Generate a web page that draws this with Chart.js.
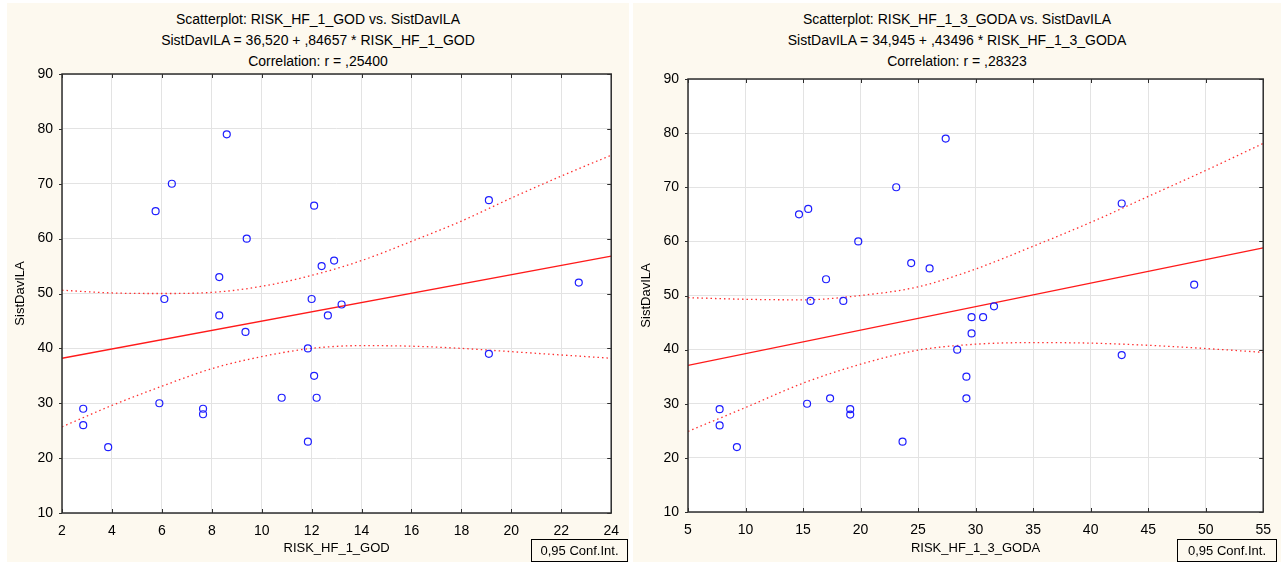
<!DOCTYPE html>
<html>
<head>
<meta charset="utf-8">
<script src="https://cdn.jsdelivr.net/npm/chart.js@4.4.1/dist/chart.umd.min.js"></script>
<style>
body{margin:0;background:#fff;font-family:"Liberation Sans",Arial,sans-serif;width:1288px;height:564px;overflow:hidden;position:relative;}
.panel{position:absolute;top:3px;height:559px;background:#fdf9ef;}
.head{position:absolute;left:0;right:0;top:6px;text-align:center;font-size:14px;line-height:21px;color:#000;}
.panel canvas{position:absolute;left:0;top:0;}
.conf{position:absolute;top:536px;height:21px;border:1px solid #000;font-size:13px;line-height:21px;text-align:center;color:#000;}
</style>
</head>
<body>
<div class="panel" style="left:7px;width:622px">
  <div class="head">Scatterplot: RISK_HF_1_GOD vs. SistDavILA<br>SistDavILA = 36,520 + ,84657 * RISK_HF_1_GOD<br>Correlation: r = ,25400</div>
  <canvas id="chartGod" width="622" height="559"></canvas>
  <div class="conf" style="left:524px;width:95px">0,95 Conf.Int.</div>
</div>
<div class="panel" style="left:633px;width:648px">
  <div class="head">Scatterplot: RISK_HF_1_3_GODA vs. SistDavILA<br>SistDavILA = 34,945 + ,43496 * RISK_HF_1_3_GODA<br>Correlation: r = ,28323</div>
  <canvas id="chartGoda" width="648" height="559"></canvas>
  <div class="conf" style="left:544px;width:98px">0,95 Conf.Int.</div>
</div>
<script>
// SistDavILA (same subjects in both plots)
var sistDavILA   = [79, 70, 65, 66, 60, 56, 55, 53, 49, 49, 48, 46, 46, 43, 40, 35, 31, 31, 30, 29, 29, 28, 26, 22, 23, 67, 52, 39];
var riskHf1God   = [8.6, 6.4, 5.75, 12.1, 9.4, 12.9, 12.4, 8.3, 6.1, 12.0, 13.2, 8.3, 12.65, 9.35, 11.85, 12.1, 10.8, 12.2, 5.9, 2.85, 7.65, 7.65, 2.85, 3.85, 11.85, 19.1, 22.7, 19.1];
var riskHf13Goda = [27.4, 23.1, 14.65, 15.45, 19.8, 24.4, 26.0, 17.0, 15.65, 18.5, 31.6, 29.65, 30.65, 29.65, 28.4, 29.2, 29.2, 17.35, 15.35, 7.75, 19.1, 19.1, 7.75, 9.25, 23.65, 42.7, 49, 42.7];

// regression lines (end points)
var fitGodX  = [2, 24];
var fitGodY  = [38.2, 56.8];
var fitGodaX = [5, 55];
var fitGodaY = [37.1, 58.8];

// 0,95 confidence bands
var bandGodX     = [2, 4, 6, 8, 10, 12, 14, 16, 18, 20, 22, 24];
var bandGodUpper = [50.6, 50.1, 50.0, 50.2, 51.3, 53.3, 56.0, 59.5, 63.2, 67.4, 71.4, 75.2];
var bandGodLower = [25.7, 29.6, 33.1, 36.3, 38.5, 40.0, 40.5, 40.4, 40.0, 39.4, 38.8, 38.2];
var bandGodaX     = [5, 10, 15, 20, 25, 30, 35, 40, 45, 50, 55];
var bandGodaUpper = [49.6, 49.3, 49.2, 50.0, 51.6, 54.9, 59.1, 63.5, 68.3, 73.1, 78.1];
var bandGodaLower = [24.9, 29.3, 33.8, 37.3, 39.9, 41.0, 41.3, 41.2, 40.8, 40.2, 39.5];

var yTicks = {min: 10, max: 90, step: 10};
var godTicks = {min: 2, max: 24, step: 2};
var godaTicks = {min: 5, max: 55, step: 5};

var fontFam = '"Liberation Sans", Arial, sans-serif';

function pts(xs, ys) {
    return xs.map(function (x, i) { return {x: x, y: ys[i]}; });
}

// white plot area + frame with small tick marks
var framePlugin = {
    id: 'frame',
    beforeDraw: function (chart) {
        var a = chart.chartArea, ctx = chart.ctx;
        ctx.save();
        ctx.fillStyle = '#ffffff';
        ctx.fillRect(a.left, a.top, a.right - a.left, a.bottom - a.top);
        ctx.restore();
    },
    afterDraw: function (chart) {
        var a = chart.chartArea, ctx = chart.ctx;
        var xs = chart.scales.x, ys = chart.scales.y;
        ctx.save();
        ctx.strokeStyle = '#2e2e2e';
        ctx.lineWidth = 1.5;
        ctx.strokeRect(a.left, a.top, a.right - a.left, a.bottom - a.top);
        ctx.lineWidth = 1;
        ctx.beginPath();
        xs.ticks.forEach(function (t) {
            var px = Math.round(xs.getPixelForValue(t.value)) + 0.5;
            ctx.moveTo(px, a.bottom); ctx.lineTo(px, a.bottom - 4);
            ctx.moveTo(px, a.top); ctx.lineTo(px, a.top + 4);
        });
        ys.ticks.forEach(function (t) {
            var py = Math.round(ys.getPixelForValue(t.value)) + 0.5;
            ctx.moveTo(a.left, py); ctx.lineTo(a.left - 3, py);
            ctx.moveTo(a.right, py); ctx.lineTo(a.right - 4, py);
        });
        ctx.stroke();
        ctx.restore();
    }
};

function makeChart(id, xs, xr, xTitle, fitX, fitY, bandX, upper, lower, top, right, xHeight) {
    var ctx = document.getElementById(id);
    return new Chart(ctx, {
        type: 'scatter',
        data: {
            datasets: [
                {
                    data: pts(xs, sistDavILA),
                    pointRadius: 3.5,
                    pointHoverRadius: 3.5,
                    pointBorderWidth: 1.2,
                    borderColor: '#1f1fff',
                    backgroundColor: 'rgba(0,0,0,0)'
                },
                {
                    data: pts(fitX, fitY),
                    showLine: true,
                    pointRadius: 0,
                    borderColor: '#ff1a1a',
                    borderWidth: 1.3
                },
                {
                    data: pts(bandX, upper),
                    showLine: true,
                    pointRadius: 0,
                    borderColor: '#ff3030',
                    borderWidth: 1.3,
                    borderDash: [1.5, 3],
                    cubicInterpolationMode: 'monotone'
                },
                {
                    data: pts(bandX, lower),
                    showLine: true,
                    pointRadius: 0,
                    borderColor: '#ff3030',
                    borderWidth: 1.3,
                    borderDash: [1.5, 3],
                    cubicInterpolationMode: 'monotone'
                }
            ]
        },
        options: {
            responsive: false,
            animation: false,
            layout: {padding: {top: top, right: right, left: 0, bottom: 0}},
            plugins: {legend: {display: false}, tooltip: {enabled: false}},
            scales: {
                x: {
                    type: 'linear',
                    min: xr.min, max: xr.max,
                    ticks: {stepSize: xr.step, padding: 10, color: '#000', font: {family: fontFam, size: 14}},
                    grid: {color: '#e3e3e3', drawTicks: false},
                    border: {display: false},
                    title: {display: true, text: xTitle, color: '#000', font: {family: fontFam, size: 13}, padding: {top: 0, bottom: 6}},
                    afterFit: function (s) { s.height = xHeight; }
                },
                y: {
                    type: 'linear',
                    min: yTicks.min, max: yTicks.max,
                    ticks: {stepSize: yTicks.step, padding: 9, color: '#000', font: {family: fontFam, size: 14}},
                    grid: {color: '#e3e3e3', drawTicks: false},
                    border: {display: false},
                    title: {display: true, text: 'SistDavILA', color: '#000', font: {family: fontFam, size: 13}, padding: {top: 6, bottom: 0}},
                    afterFit: function (s) { s.width = 55; }
                }
            }
        },
        plugins: [framePlugin]
    });
}

makeChart('chartGod', riskHf1God, godTicks, 'RISK_HF_1_GOD', fitGodX, fitGodY, bandGodX, bandGodUpper, bandGodLower, 71, 15, 49);
makeChart('chartGoda', riskHf13Goda, godaTicks, 'RISK_HF_1_3_GODA', fitGodaX, fitGodaY, bandGodaX, bandGodaUpper, bandGodaLower, 76, 16, 50);
</script>
</body>
</html>
